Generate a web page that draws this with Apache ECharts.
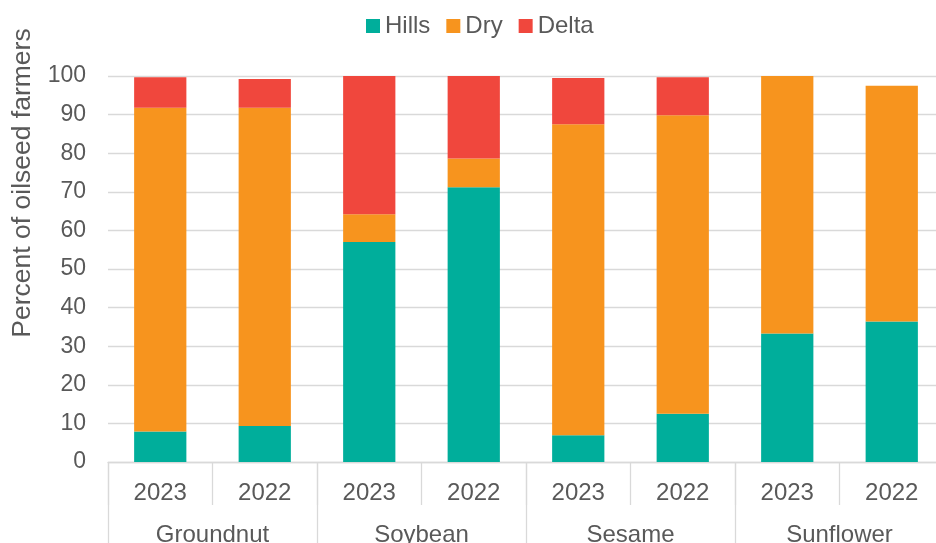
<!DOCTYPE html>
<html>
<head>
<meta charset="utf-8">
<script src="https://cdn.jsdelivr.net/npm/echarts@6/dist/echarts.min.js"></script>
<style>
html,body{margin:0;padding:0;background:#fff;}
#chart{width:936px;height:543px;}
</style>
</head>
<body>
<div id="chart"></div>
<script>
const years = ['2023','2022','2023','2022','2023','2022','2023','2022'];
const crops = ['Groundnut','Soybean','Sesame','Sunflower'];
const hills = [7.9, 9.3, 57.0, 71.2, 6.9, 12.5, 33.3, 36.4];
const dry   = [83.9, 82.5, 7.2, 7.4, 80.6, 77.3, 66.7, 61.1];
const delta = [7.9, 7.4, 35.8, 21.4, 12.0, 9.9, 0, 0];
const yTicks = {min: 0, max: 100, interval: 10};

const textColor = '#595959';
const gridColor = '#d9d9d9';
const font = 'Liberation Sans, Arial, sans-serif';

const chart = echarts.init(document.getElementById('chart'), null, {renderer: 'canvas'});
chart.setOption({
  animation: false,
  color: ['#00AE9B', '#F7941E', '#F0473D'],
  textStyle: {fontFamily: font, color: textColor},
  legend: {
    left: 361, top: 9,
    itemWidth: 14, itemHeight: 14, itemGap: 16,
    icon: 'rect',
    textStyle: {fontSize: 24, color: textColor, fontFamily: font},
    data: ['Hills', 'Dry', 'Delta']
  },
  grid: {left: 108, width: 836, top: 76, height: 386, containLabel: false, outerBoundsMode: 'none'},
  graphic: [{
    type: 'text',
    x: 23, y: 183,
    rotation: Math.PI / 2,
    style: {
      text: 'Percent of oilseed farmers',
      fill: textColor,
      font: '26.5px ' + font,
      textAlign: 'center',
      textVerticalAlign: 'middle'
    }
  }],
  xAxis: [{
    type: 'category',
    data: years,
    position: 'bottom',
    axisLine: {show: true, lineStyle: {color: gridColor, width: 1.3}},
    axisTick: {show: true, interval: 0, length: 43, lineStyle: {color: gridColor, width: 1.3}},
    axisLabel: {fontSize: 24, color: textColor, margin: 19, interval: 0, fontFamily: font},
    splitLine: {show: false}
  }, {
    type: 'category',
    data: crops,
    position: 'bottom',
    axisLine: {show: false},
    axisTick: {show: true, interval: 0, length: 95, lineStyle: {color: gridColor, width: 1.3}},
    axisLabel: {fontSize: 24, color: textColor, margin: 61, interval: 0, fontFamily: font},
    splitLine: {show: false}
  }],
  yAxis: {
    type: 'value',
    min: yTicks.min, max: yTicks.max, interval: yTicks.interval,
    axisLine: {show: false},
    axisTick: {show: false},
    axisLabel: {fontSize: 23, color: textColor, margin: 22, fontFamily: font},
    splitLine: {show: true, lineStyle: {color: gridColor, width: 1.3}}
  },
  series: [
    {name: 'Hills', type: 'bar', stack: 'total', barWidth: '50%', data: hills, xAxisIndex: 0},
    {name: 'Dry', type: 'bar', stack: 'total', barWidth: '50%', data: dry, xAxisIndex: 0},
    {name: 'Delta', type: 'bar', stack: 'total', barWidth: '50%', data: delta, xAxisIndex: 0}
  ]
});
</script>
</body>
</html>
